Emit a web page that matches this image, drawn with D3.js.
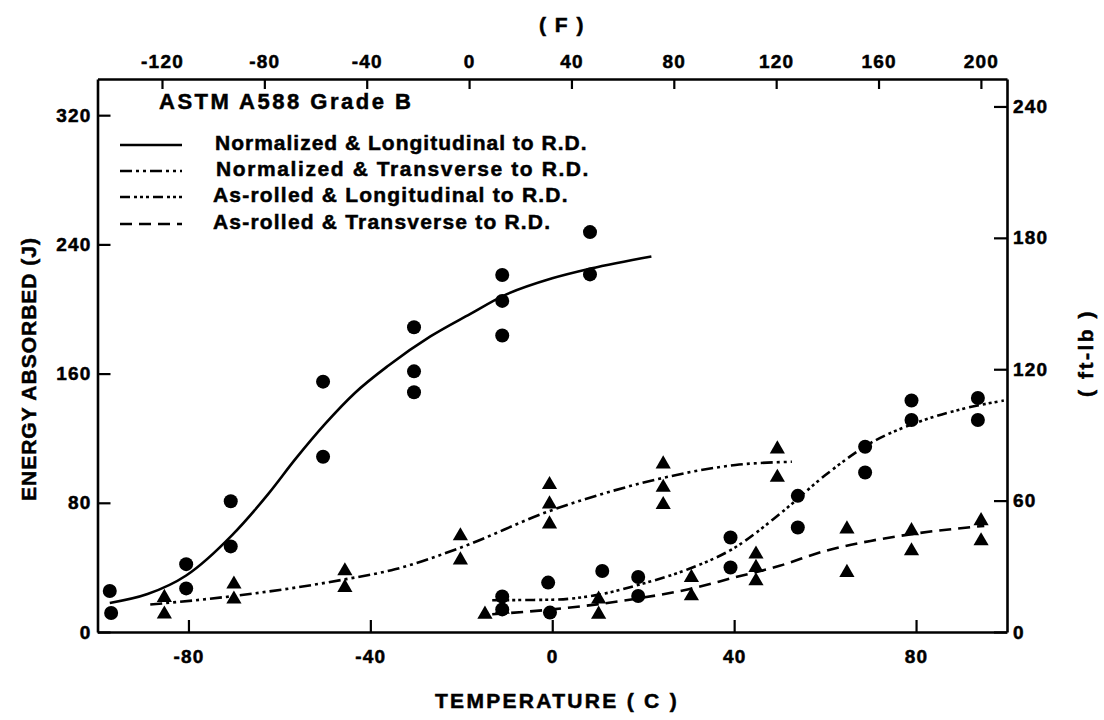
<!DOCTYPE html>
<html>
<head>
<meta charset="utf-8">
<script src="https://cdn.jsdelivr.net/npm/d3@7"></script>
<style>
  html, body { margin: 0; padding: 0; background: #fff; }
  svg { display: block; }
  text { font-family: "Liberation Sans", Arial, Helvetica, sans-serif; font-weight: bold; fill: #000; stroke: #000; stroke-width: 0.5px; }
</style>
</head>
<body>
<svg id="chart" width="1104" height="720"></svg>
<script>
// ---------------- DATA ----------------
// Temperatures in degrees C, energies in J
const seriesNames = [
  "Normalized & Longitudinal to R.D.",
  "Normalized & Transverse to R.D.",
  "As-rolled & Longitudinal to R.D.",
  "As-rolled & Transverse to R.D."
];
const legendTitle = "ASTM A588 Grade B";

// Normalized & Longitudinal (circles, solid curve)
const normLongTemp   = [-97.3, -97.0, -80.5, -80.5, -70.7, -70.7, -50.4, -50.4, -30.4, -30.4, -30.4, -11.0, -11.0, -11.0, 8.3, 8.3];
const normLongEnergy = [25.4, 11.8, 42.0, 27.0, 81.0, 53.0, 155.0, 108.5, 188.7, 161.4, 148.4, 221.0, 205.0, 183.6, 247.6, 221.4];
const normLongCurveT = [-97.3, -89.0, -80.5, -70.4, -62.3, -56.5, -49.9, -43.4, -36.0, -26.8, -18.0, -10.9, 0, 8.4, 21.8];
const normLongCurveE = [18.0, 23.5, 35.0, 60.0, 86.0, 107.0, 129.0, 148.0, 165.0, 183.0, 197.0, 208.0, 219.0, 225.0, 232.5];

// Normalized & Transverse (triangles, dash-dot-dot curve)
const normTransTemp   = [-85.3, -85.3, -70.0, -70.0, -45.6, -45.6, -20.2, -20.2, -0.6, -0.6, -0.6, 24.4, 24.4, 24.4, 49.5, 49.5];
const normTransEnergy = [21.3, 11.0, 29.6, 20.3, 37.8, 27.5, 59.5, 44.5, 91.2, 79.2, 66.8, 104.0, 89.5, 78.8, 113.3, 95.7];
const normTransCurveT = [-88.4, -70.0, -45.6, -34.6, -20.2, -0.6, 13.2, 24.5, 32.2, 40.3, 52.7];
const normTransCurveE = [17.0, 22.3, 32.6, 38.8, 52.2, 74.9, 87.3, 95.5, 100.0, 103.4, 105.4];

// As-rolled & Longitudinal (circles, dash-dot curve)
const asLongTemp   = [-11.0, -11.0, -0.9, -0.5, 11.0, 18.9, 18.9, 39.2, 39.2, 54.0, 54.0, 68.8, 68.8, 79.0, 79.0, 93.6, 93.6];
const asLongEnergy = [22.0, 14.0, 30.6, 12.0, 37.8, 34.1, 22.3, 58.5, 39.9, 84.3, 64.7, 114.7, 98.8, 143.3, 131.3, 144.9, 131.3];
const asLongCurveT = [-13.2, 0, 10, 20, 30, 40, 50, 60, 70, 80, 90, 99.3];
const asLongCurveE = [19.7, 20.0, 23.0, 30.0, 39.0, 52.0, 73.0, 97.0, 117.0, 129.5, 138.0, 143.3];

// As-rolled & Transverse (triangles, dashed curve)
const asTransTemp   = [-14.8, -11.0, 10.2, 10.2, 30.6, 30.6, 44.8, 44.8, 44.8, 64.8, 64.8, 79.0, 79.0, 94.3, 94.3];
const asTransEnergy = [10.9, 14.0, 20.3, 10.9, 33.7, 22.3, 48.2, 39.9, 31.6, 63.7, 36.8, 62.6, 50.2, 68.8, 56.4];
const asTransCurveT = [-13.2, 0, 20, 30, 40, 50, 60, 70, 80, 95];
const asTransCurveE = [11.0, 14.0, 21.3, 26.5, 33.7, 41.0, 50.2, 56.4, 61.0, 65.7];

// Tick labels
const ticksC  = [-80, -40, 0, 40, 80];
const ticksF  = [-120, -80, -40, 0, 40, 80, 120, 160, 200];
const ticksJ  = [0, 80, 160, 240, 320];
const ticksFt = [0, 60, 120, 180, 240];

// ---------------- CHART ----------------
const svg = d3.select("#chart");
const L = 97.5, R = 1007, T = 79, B = 632;

const x = d3.scaleLinear().domain([-100, 100]).range([L, R]);
const y = d3.scaleLinear().domain([0, 342.4]).range([B, T]);
const FT_TO_J = 1.35582;
const yFt = d3.scaleLinear().domain([0, 342.4 / FT_TO_J]).range([B, T]);
// Fahrenheit scale as printed on the original (slightly stretched relative to C)
const xF = d3.scaleLinear().domain([-145.2, 210.2]).range([L, R]);

function styleAxis(g) {
  g.selectAll("path.domain").attr("stroke", "#000").attr("stroke-width", 2.6);
  g.selectAll(".tick line").attr("stroke", "#000").attr("stroke-width", 2.2);
  g.selectAll("text")
    .style("font-family", '"Liberation Sans", Arial, sans-serif')
    .style("font-weight", "bold")
    .style("font-size", "19px")
    .style("letter-spacing", "1.2px")
    .attr("fill", "#000");
}
const fmt = d => (d < 0 ? "-" + Math.abs(d) : String(d));

// bottom axis (C)
svg.append("g").attr("transform", `translate(0,${B})`)
  .call(d3.axisBottom(x).tickValues(ticksC).tickFormat(fmt).tickSizeInner(-12).tickSizeOuter(0).tickPadding(18))
  .call(styleAxis);
// top axis (F)
svg.append("g").attr("transform", `translate(0,${T})`)
  .call(d3.axisTop(xF).tickValues(ticksF).tickFormat(fmt).tickSizeInner(-10).tickSizeOuter(0).tickPadding(11))
  .call(styleAxis);
// left axis (J)
svg.append("g").attr("transform", `translate(${L},0)`)
  .call(d3.axisLeft(y).tickValues(ticksJ).tickSizeInner(-13).tickSizeOuter(0).tickPadding(6))
  .call(styleAxis);
// right axis (ft-lb)
svg.append("g").attr("transform", `translate(${R},0)`)
  .call(d3.axisRight(yFt).tickValues(ticksFt).tickSizeInner(-13).tickSizeOuter(0).tickPadding(6))
  .call(styleAxis);

// axis titles
svg.append("text").attr("x", 562).attr("y", 32).attr("text-anchor", "middle")
  .style("font-size", "21px").style("letter-spacing", "1.5px").text("( F )");
svg.append("text").attr("x", 557).attr("y", 708).attr("text-anchor", "middle")
  .style("font-size", "21px").style("letter-spacing", "2.3px").text("TEMPERATURE ( C )");
svg.append("text").attr("transform", "translate(36,369) rotate(-90)").attr("text-anchor", "middle")
  .style("font-size", "21px").style("letter-spacing", "1px").text("ENERGY ABSORBED (J)");
svg.append("text").attr("transform", "translate(1093,353) rotate(-90)").attr("text-anchor", "middle")
  .style("font-size", "21px").style("letter-spacing", "2.5px").text("( ft-lb )");

// series definitions
const zip = (a, b) => a.map((v, i) => [v, b[i]]);
const series = [
  { name: seriesNames[0], pts: zip(normLongTemp, normLongEnergy), curve: zip(normLongCurveT, normLongCurveE), marker: "circle", dash: null },
  { name: seriesNames[1], pts: zip(normTransTemp, normTransEnergy), curve: zip(normTransCurveT, normTransCurveE), marker: "triangle", dash: "12,4,3,4,3,4" },
  { name: seriesNames[2], pts: zip(asLongTemp, asLongEnergy), curve: zip(asLongCurveT, asLongCurveE), marker: "circle", dash: "10,4,3,3,3,3,3,4" },
  { name: seriesNames[3], pts: zip(asTransTemp, asTransEnergy), curve: zip(asTransCurveT, asTransCurveE), marker: "triangle", dash: "12,7" }
];

const line = d3.line().x(d => x(d[0])).y(d => y(d[1])).curve(d3.curveMonotoneX);

series.forEach(s => {
  svg.append("path").datum(s.curve)
    .attr("d", line)
    .attr("fill", "none").attr("stroke", "#000").attr("stroke-width", 2.6)
    .attr("stroke-dasharray", s.dash);
});

const tri = d3.symbol().type(d3.symbolTriangle).size(100);
series.forEach(s => {
  if (s.marker === "circle") {
    svg.append("g").selectAll("circle").data(s.pts).join("circle")
      .attr("cx", d => x(d[0])).attr("cy", d => y(d[1])).attr("r", 7).attr("fill", "#000");
  } else {
    svg.append("g").selectAll("path").data(s.pts).join("path")
      .attr("d", tri).attr("transform", d => `translate(${x(d[0])},${y(d[1])})`).attr("fill", "#000");
  }
});

// legend
const leg = svg.append("g");
leg.append("text").attr("x", 159).attr("y", 109)
  .style("font-size", "22px").style("letter-spacing", "2.5px").text(legendTitle);
const legBase = [150, 176, 202, 229];
const legX = [215, 216, 213, 213];
const legSpacing = [1.0, 1.6, 1.2, 1.2];
series.forEach((s, i) => {
  leg.append("line").attr("x1", 120).attr("x2", 182)
    .attr("y1", legBase[i] - 5).attr("y2", legBase[i] - 5)
    .attr("stroke", "#000").attr("stroke-width", 2.4)
    .attr("stroke-dasharray", s.dash);
  leg.append("text").attr("x", legX[i]).attr("y", legBase[i])
    .style("font-size", "21px").style("letter-spacing", legSpacing[i] + "px").text(s.name);
});
</script>
</body>
</html>
